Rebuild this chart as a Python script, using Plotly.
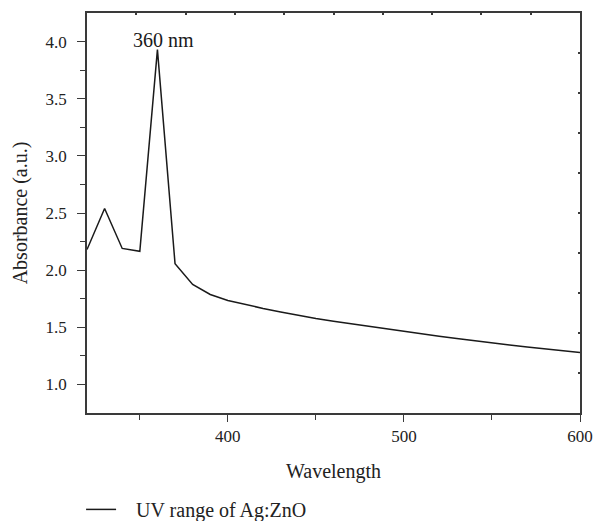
import plotly.graph_objects as go

wavelength = [320, 330, 340, 350, 360, 370, 380, 390, 400, 410, 420, 430, 440, 450,
              460, 470, 480, 490, 500, 510, 520, 530, 540, 550, 560, 570, 580, 590, 600]
absorbance = [2.18, 2.54, 2.19, 2.165, 3.93, 2.056, 1.875, 1.787, 1.735, 1.698, 1.665,
              1.634, 1.604, 1.577, 1.553, 1.530, 1.508, 1.486, 1.462, 1.441, 1.421,
              1.401, 1.381, 1.362, 1.345, 1.328, 1.312, 1.296, 1.280]
series_name = "UV range of Ag:ZnO"
peak_label = "360 nm"
peak_x = 360
peak_y = 3.93

FONT = "Liberation Serif"
AX = "#3a3a3a"
PAD = "\u00a0" * 3

fig = go.Figure()
fig.add_trace(go.Scatter(x=wavelength, y=absorbance, mode="lines", name=PAD + series_name,
                         line=dict(color="#1a1a1a", width=1.5), showlegend=True))
# invisible trace carrying the top/right tick frame
fig.add_trace(go.Scatter(x=[0], y=[0], xaxis="x2", yaxis="y2", mode="markers",
                         marker=dict(opacity=0), showlegend=False, hoverinfo="skip"))

fig.add_annotation(x=peak_x, y=peak_y, text=peak_label, showarrow=False,
                   xanchor="center", yanchor="bottom", xshift=6, yshift=-3,
                   font=dict(family=FONT, size=20, color="#1a1a1a"))

fig.update_layout(
    width=596, height=521,
    margin=dict(l=87, r=16, t=13, b=108, autoexpand=False),
    paper_bgcolor="white", plot_bgcolor="white",
    font=dict(family=FONT, size=17, color="#222"),
    xaxis=dict(range=[320, 600], tickvals=[400, 500, 600], ticks="outside", ticklen=7,
               tickwidth=1.2, tickcolor=AX, showline=True, linecolor=AX, linewidth=1.5,
               showgrid=False, zeroline=False, automargin=False,
               minor=dict(tickvals=[350, 450, 550], ticks="outside", ticklen=5,
                          tickwidth=1.2, tickcolor=AX),
               title=dict(text="Wavelength", standoff=19)),
    yaxis=dict(range=[0.75, 4.25], tickvals=[1.0, 1.5, 2.0, 2.5, 3.0, 3.5, 4.0],
               tickformat=".1f", ticks="outside", ticklen=8, tickwidth=1.2, tickcolor=AX,
               ticklabelstandoff=7,
               showline=True, linecolor=AX, linewidth=1.5, showgrid=False, zeroline=False,
               automargin=False,
               minor=dict(tickvals=[1.25, 1.75, 2.25, 2.75, 3.25, 3.75], ticks="outside",
                          ticklen=5, tickwidth=1.2, tickcolor=AX),
               title=dict(text="Absorbance (a.u.)", standoff=13)),
    xaxis2=dict(overlaying="x", side="top", range=[0, 10], dtick=1, ticks="inside",
                ticklen=2, tickwidth=1.5, tickcolor=AX, showticklabels=False,
                showline=True, linecolor=AX, linewidth=1.5, showgrid=False, zeroline=False,
                automargin=False),
    yaxis2=dict(overlaying="y", side="right", range=[0, 10], dtick=1, ticks="inside",
                ticklen=2, tickwidth=1.5, tickcolor=AX, showticklabels=False,
                showline=True, linecolor=AX, linewidth=1.5, showgrid=False, zeroline=False,
                automargin=False),
    legend=dict(orientation="h", x=-0.012, xanchor="left", y=-0.241, yanchor="middle",
                font=dict(family=FONT, size=20), bgcolor="rgba(0,0,0,0)"),
    showlegend=True,
)

fig.write_html("out.html", config={"displayModeBar": False},
               post_script="document.body.style.margin='0';document.body.style.overflow='hidden';")
